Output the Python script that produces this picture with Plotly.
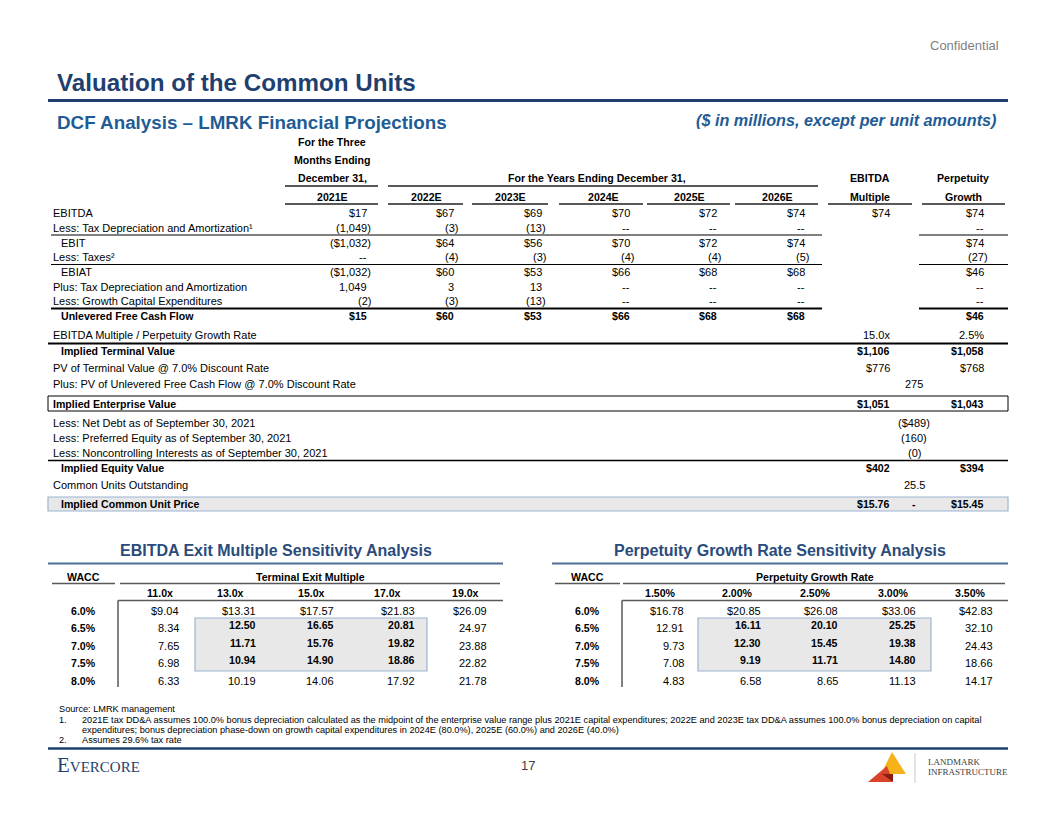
import plotly.graph_objects as go

# ---------------- data ----------------
proj_periods = ["2021E", "2022E", "2023E", "2024E", "2025E", "2026E"]
proj_labels = ["EBITDA", "Less: Tax Depreciation and Amortization\u00b9", "EBIT", "Less: Taxes\u00b2",
               "EBIAT", "Plus: Tax Depreciation and Amortization", "Less: Growth Capital Expenditures",
               "Unlevered Free Cash Flow"]
proj_indent = [False, False, True, False, True, False, False, True]
proj_bold = [False, False, False, False, False, False, False, True]
col_2021 = ["$17", "(1,049)", "($1,032)", "--", "($1,032)", "1,049", "(2)", "$15"]
col_2022 = ["$67", "(3)", "$64", "(4)", "$60", "3", "(3)", "$60"]
col_2023 = ["$69", "(13)", "$56", "(3)", "$53", "13", "(13)", "$53"]
col_2024 = ["$70", "--", "$70", "(4)", "$66", "--", "--", "$66"]
col_2025 = ["$72", "--", "$72", "(4)", "$68", "--", "--", "$68"]
col_2026 = ["$74", "--", "$74", "(5)", "$68", "--", "--", "$68"]
col_multiple = ["$74", "", "", "", "", "", "", ""]
col_perpetuity = ["$74", "--", "$74", "(27)", "$46", "--", "--", "$46"]

val_labels = ["EBITDA Multiple / Perpetuity Growth Rate", "Implied Terminal Value",
              "PV of Terminal Value @ 7.0% Discount Rate",
              "Plus: PV of Unlevered Free Cash Flow @ 7.0% Discount Rate", "Implied Enterprise Value",
              "Less: Net Debt as of September 30, 2021", "Less: Preferred Equity as of September 30, 2021",
              "Less: Noncontrolling Interests as of September 30, 2021", "Implied Equity Value",
              "Common Units Outstanding", "Implied Common Unit Price"]
val_indent = [False, True, False, False, False, False, False, False, True, False, True]
val_bold = [False, True, False, False, True, False, False, False, True, False, True]
val_multiple = ["15.0x", "$1,106", "$776", "", "$1,051", "", "", "", "$402", "", "$15.76"]
val_shared = ["", "", "", "275", "", "($489)", "(160)", "(0)", "", "25.5", "-"]
val_perpetuity = ["2.5%", "$1,058", "$768", "", "$1,043", "", "", "", "$394", "", "$15.45"]

wacc = ["6.0%", "6.5%", "7.0%", "7.5%", "8.0%"]
exit_multiples = ["11.0x", "13.0x", "15.0x", "17.0x", "19.0x"]
exit_prices = [[9.04, 13.31, 17.57, 21.83, 26.09],
               [8.34, 12.50, 16.65, 20.81, 24.97],
               [7.65, 11.71, 15.76, 19.82, 23.88],
               [6.98, 10.94, 14.90, 18.86, 22.82],
               [6.33, 10.19, 14.06, 17.92, 21.78]]
growth_rates = ["1.50%", "2.00%", "2.50%", "3.00%", "3.50%"]
growth_prices = [[16.78, 20.85, 26.08, 33.06, 42.83],
                 [12.91, 16.11, 20.10, 25.25, 32.10],
                 [9.73, 12.30, 15.45, 19.38, 24.43],
                 [7.08, 9.19, 11.71, 14.80, 18.66],
                 [4.83, 6.58, 8.65, 11.13, 14.17]]

footnotes = [
    ("", "Source: LMRK management"),
    ("1.", "2021E tax DD&A assumes 100.0% bonus depreciation calculated as the midpoint of the enterprise value range plus 2021E capital expenditures; 2022E and 2023E tax DD&A assumes 100.0% bonus depreciation on capital"),
    ("", "expenditures; bonus depreciation phase-down on growth capital expenditures in 2024E (80.0%), 2025E (60.0%) and 2026E (40.0%)"),
    ("2.", "Assumes 29.6% tax rate"),
]

# ---------------- style ----------------
SANS = "Liberation Sans, Arial, sans-serif"
SERIF = "Liberation Serif, Times New Roman, serif"
NAVY = "#1F3F6F"
SUBBLUE = "#1F5C96"
SENSBLUE = "#2A4B7C"
BOXFILL = "#E8E8E8"
BOXLINE = "#9CB4D2"
TXT = "#000000"
HDR_GRAY = "#595959"
BOLD_SZ = 10.6

fig = go.Figure()
fig.add_trace(go.Scatter(x=[0], y=[0], mode="markers", marker=dict(opacity=0), hoverinfo="skip"))

ann = []
shapes = []


def text(x, y, s, anchor="left", size=11, bold=False, color=TXT, family=SANS, italic=False,
         variant="normal", yanchor="middle"):
    ann.append(dict(x=x, y=y, xref="x", yref="y", text=s, showarrow=False, xanchor=anchor,
                    yanchor=yanchor, borderpad=0,
                    font=dict(family=family, size=size, color=color,
                              weight="bold" if bold else "normal",
                              style="italic" if italic else "normal", variant=variant)))


def num(xr, y, s, bold=False, size=11):
    if not s:
        return
    hang = 3.5 if s.endswith(")") else 0
    text(xr + hang, y, s, anchor="right", size=size, bold=bold)


def hline(x0, x1, y, color="#000000", width=1):
    shapes.append(dict(type="line", xref="x", yref="y", x0=x0, x1=x1, y0=y, y1=y,
                       line=dict(color=color, width=width)))


def vline(x, y0, y1, color="#000000", width=1):
    shapes.append(dict(type="line", xref="x", yref="y", x0=x, x1=x, y0=y0, y1=y1,
                       line=dict(color=color, width=width)))


def rect(x0, y0, x1, y1, fill="rgba(0,0,0,0)", line="#000000", width=1):
    shapes.append(dict(type="rect", xref="x", yref="y", x0=x0, x1=x1, y0=y0, y1=y1,
                       fillcolor=fill, line=dict(color=line, width=width), layer="below"))


# ---------------- header ----------------
text(1000, 45, "Confidential", anchor="right", size=13, color="#7F7F7F")
text(56, 82, "Valuation of the Common Units", size=24.2, bold=True, color=NAVY)
hline(48, 1008, 100.5, NAVY, 3)
text(56, 122, "DCF Analysis \u2013 LMRK Financial Projections", size=18.8, bold=True, color=SUBBLUE)
text(997, 120, "($ in millions, except per unit amounts)", anchor="right", size=16.2, bold=True,
     italic=True, color=SUBBLUE)

# ---------------- projections table ----------------
col_right = [368, 455, 543, 631, 718, 806, 891, 985]
col_center = [332, 426, 510, 603, 689, 777, 870, 963]
under_spans = [(285, 378), (388, 463), (472, 548), (559, 643), (647, 730), (735, 818), (828, 912), (922, 1005)]

text(332, 142, "For the Three", anchor="center", bold=True, size=BOLD_SZ)
text(332, 160, "Months Ending", anchor="center", bold=True, size=BOLD_SZ)
text(332, 178, "December 31,", anchor="center", bold=True, size=BOLD_SZ)
text(597, 178, "For the Years Ending December 31,", anchor="center", bold=True, size=BOLD_SZ)
text(870, 178, "EBITDA", anchor="center", bold=True, size=BOLD_SZ)
text(870, 197, "Multiple", anchor="center", bold=True, size=BOLD_SZ)
text(963, 178, "Perpetuity", anchor="center", bold=True, size=BOLD_SZ)
text(963, 197, "Growth", anchor="center", bold=True, size=BOLD_SZ)
hline(285, 378, 186, HDR_GRAY, 2)
hline(388, 818, 186, HDR_GRAY, 2)
for i, p in enumerate(proj_periods):
    text(col_center[i], 197, p, anchor="center", bold=True, size=BOLD_SZ)
for (a, b) in under_spans:
    hline(a, b, 204, HDR_GRAY, 2)

row_y = [212.5, 228, 242.5, 257, 272, 286.5, 301, 316]
cols = [col_2021, col_2022, col_2023, col_2024, col_2025, col_2026, col_multiple, col_perpetuity]
for r, lab in enumerate(proj_labels):
    y = row_y[r]
    b = proj_bold[r]
    text(60 if proj_indent[r] else 52, y, lab, bold=b, size=BOLD_SZ if b else 11)
    for c, col in enumerate(cols):
        num(col_right[c], y, col[r], bold=b, size=BOLD_SZ if b else 11)

for y, w in [(235, 1), (264.5, 1), (308.5, 2)]:
    hline(51, 822, y, "#000000", w)
    hline(919, 1008, y, "#000000", w)

# ---------------- valuation rows ----------------
val_y = [335, 351, 368, 383.5, 403.5, 423, 438, 453, 467.5, 485, 504]
rect(48, 497, 1008, 511, fill=BOXFILL, line=BOXLINE, width=1.2)
rect(48, 396, 1008, 411, line="#000000", width=1)
hline(48, 1008, 343.5, "#000000", 2)
hline(48, 1008, 460.5, "#000000", 1.5)
for r, lab in enumerate(val_labels):
    y = val_y[r]
    b = val_bold[r]
    sz = BOLD_SZ if b else 11
    text(60 if val_indent[r] else 52, y, lab, bold=b, size=sz)
    num(891, y, val_multiple[r], bold=b, size=sz)
    num(985, y, val_perpetuity[r], bold=b, size=sz)
    if val_shared[r]:
        text(914, y, val_shared[r], anchor="center", bold=b, size=sz)


# ---------------- sensitivity tables ----------------
def sens_table(title, title_cx, line_x0, line_x1, wacc_cx, wacc_line, hdr_title, hdr_cx, hdr_line,
               grid_x, hdr_centers, rights, box, headers, grid):
    text(title_cx, 550, title, anchor="center", size=16, bold=True, color=SENSBLUE)
    hline(line_x0, line_x1, 563.5, "#4F6E96", 2)
    text(wacc_cx, 577, "WACC", anchor="center", bold=True, size=BOLD_SZ)
    hline(wacc_line[0], wacc_line[1], 583.5, HDR_GRAY, 1.5)
    text(hdr_cx, 577, hdr_title, anchor="center", bold=True, size=BOLD_SZ)
    hline(hdr_line[0], hdr_line[1], 583.5, HDR_GRAY, 1.5)
    for c, h in enumerate(headers):
        text(hdr_centers[c], 592.5, h, anchor="center", bold=True, size=BOLD_SZ)
    hline(grid_x, line_x1, 600.5, HDR_GRAY, 1.5)
    vline(grid_x, 600.5, 687, HDR_GRAY, 1.5)
    rect(box[0], 618, box[1], 671, fill=BOXFILL, line=BOXLINE, width=1.2)
    ys = [610.5, 628, 645.5, 663, 680.5]
    for r, w in enumerate(wacc):
        text(wacc_cx, ys[r], w, anchor="center", bold=True, size=BOLD_SZ)
        for c, v in enumerate(grid[r]):
            s = ("$" if r == 0 else "") + f"{v:.2f}"
            inbox = 1 <= r <= 3 and 1 <= c <= 3
            num(rights[c], ys[r] - (3 if inbox else 0), s, bold=inbox, size=BOLD_SZ if inbox else 11)


sens_table("EBITDA Exit Multiple Sensitivity Analysis", 276, 48, 503, 83, (52, 115),
           "Terminal Exit Multiple", 310, (120, 500), 118, [160, 230, 311, 387, 465],
           [180, 257, 335, 416, 488], (195, 427), exit_multiples, exit_prices)
sens_table("Perpetuity Growth Rate Sensitivity Analysis", 780, 552, 1008, 587, (555, 620),
           "Perpetuity Growth Rate", 815, (623, 1005), 622, [660, 737, 815, 893, 970],
           [685, 762, 839, 917, 994], (698, 931), growth_rates, growth_prices)

# ---------------- footnotes & footer ----------------
FN_SZ = 9.2
fn_y = [709, 719.5, 729.5, 740]
for (mark, body), y in zip(footnotes, fn_y):
    if mark:
        text(58, y, mark, size=FN_SZ)
        text(81, y, body, size=FN_SZ)
    elif body.startswith("Source"):
        text(58, y, body, size=FN_SZ)
    else:
        text(81, y, body, size=FN_SZ)
hline(48, 1008, 748.5, NAVY, 2.5)

text(56, 765, "Evercore", size=21, color=NAVY, family=SERIF, variant="small-caps")
text(528, 765, "17", anchor="center", size=13, color="#404040")

# landmark logo
shapes.append(dict(type="path", xref="x", yref="y", path="M 892 752 L 906 774 L 881 774 Z",
                   fillcolor="#F6B21B", line=dict(width=0)))
shapes.append(dict(type="path", xref="x", yref="y", path="M 887 766 L 893 782 L 868 782 Z",
                   fillcolor="#D9452A", line=dict(width=0)))
shapes.append(dict(type="path", xref="x", yref="y", path="M 882 774 L 893 774 L 893 782 Z",
                   fillcolor="#8C1D12", line=dict(width=0)))
vline(915, 753, 783, "#C8C8C8", 1)
text(927, 762, "LANDMARK", size=9, color="#404040", family=SERIF)
text(927, 772, "INFRASTRUCTURE", size=9, color="#404040", family=SERIF)

# page body has an 8px margin: size and range the plot so data units equal page pixels
fig.update_layout(
    width=1040, height=800, margin=dict(l=0, r=0, t=0, b=0),
    paper_bgcolor="white", plot_bgcolor="white", showlegend=False,
    xaxis=dict(range=[8, 1048], visible=False, fixedrange=True),
    yaxis=dict(range=[808, 8], visible=False, fixedrange=True),
    annotations=ann, shapes=shapes, hovermode=False,
)
fig.write_html("out.html")
